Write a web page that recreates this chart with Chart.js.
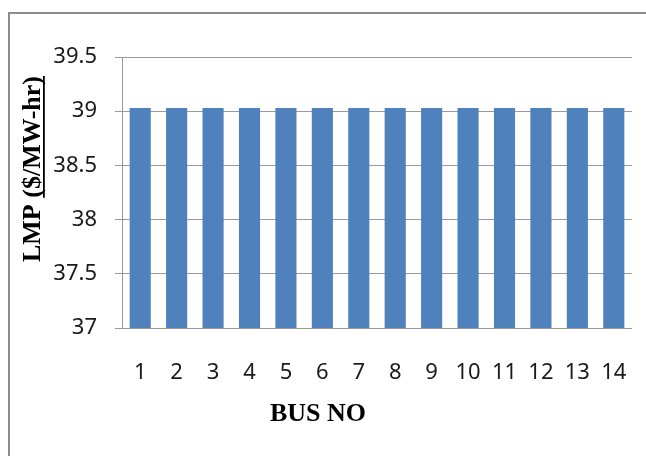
<!DOCTYPE html>
<html>
<head>
<meta charset="utf-8">
<script src="https://cdn.jsdelivr.net/npm/chart.js@4"></script>
<style>
  html, body { margin: 0; padding: 0; background: #ffffff; }
  #wrap { width: 646px; height: 456px; position: relative; }
</style>
</head>
<body>
<div id="wrap"><canvas id="c" width="646" height="456"></canvas></div>
<script>
// Bus numbers and locational marginal prices
const busNumbers = ['1','2','3','4','5','6','7','8','9','10','11','12','13','14'];
const lmpValues = [39.03, 39.03, 39.03, 39.03, 39.03, 39.03, 39.03, 39.03, 39.03, 39.03, 39.03, 39.03, 39.03, 39.03];
const yTickValues = [37, 37.5, 38, 38.5, 39, 39.5];

const xTitle = 'BUS NO';
const yTitleMain = 'LMP ';
const yTitleUnit = '($/MW-hr)';

const tickFont = { family: "'Noto Sans', 'Liberation Sans', sans-serif", size: 22 };
const titleFont = "bold 26px 'Liberation Serif', 'DejaVu Serif', serif";

// Frame and axis titles drawn around the plot
const decorations = {
  id: 'decorations',
  beforeDraw(chart) {
    const ctx = chart.ctx;
    ctx.save();
    ctx.fillStyle = '#ffffff';
    ctx.fillRect(0, 0, chart.width, chart.height);
    ctx.strokeStyle = '#8c8c8c';
    ctx.lineWidth = 2;
    ctx.beginPath();
    ctx.moveTo(chart.width + 2, 13);
    ctx.lineTo(9, 13);
    ctx.lineTo(9, chart.height + 2);
    ctx.stroke();
    ctx.restore();
  },
  afterDraw(chart) {
    const ctx = chart.ctx;
    ctx.save();
    ctx.fillStyle = '#000000';
    ctx.font = titleFont;
    // x-axis title
    ctx.textAlign = 'center';
    ctx.textBaseline = 'middle';
    ctx.fillText(xTitle, 318, 414);
    // y-axis title, rotated, unit part underlined
    const full = yTitleMain + yTitleUnit;
    const wFull = ctx.measureText(full).width;
    const wMain = ctx.measureText(yTitleMain).width;
    const wUnit = ctx.measureText(yTitleUnit).width;
    ctx.translate(32, 169);
    ctx.rotate(-Math.PI / 2);
    ctx.textAlign = 'left';
    ctx.textBaseline = 'alphabetic';
    const x0 = -wFull / 2;
    const base = 8;
    ctx.fillText(full, x0, base);
    ctx.fillRect(x0 + wMain, base + 3, wUnit, 1.8);
    ctx.restore();
  }
};

new Chart(document.getElementById('c'), {
  type: 'bar',
  data: {
    labels: busNumbers,
    datasets: [{
      data: lmpValues,
      backgroundColor: '#4f81bd',
      borderWidth: 0,
      barPercentage: 0.58,
      categoryPercentage: 1.0
    }]
  },
  options: {
    responsive: false,
    animation: false,
    devicePixelRatio: 1,
    layout: { padding: { top: 57, right: 14, left: 0, bottom: 0 } },
    plugins: { legend: { display: false }, tooltip: { enabled: false }, title: { display: false } },
    scales: {
      x: {
        grid: { display: false, drawTicks: false },
        border: { display: false },
        ticks: { color: '#1a1a1a', font: tickFont, padding: 32, maxRotation: 0, autoSkip: false },
        afterFit(scale) {
          scale.height = 128;
          scale.paddingLeft = 0;
          scale.paddingRight = 0;
        }
      },
      y: {
        min: 37,
        max: 39.5,
        afterBuildTicks(scale) { scale.ticks = yTickValues.map(v => ({ value: v })); },
        grid: { color: '#9a9a9a', lineWidth: 1, tickLength: 7 },
        border: { display: true, color: '#9a9a9a', width: 1 },
        ticks: { color: '#1a1a1a', font: tickFont, padding: 18, callback: v => String(v) },
        afterFit(scale) {
          scale.width = 122;
          scale.paddingTop = 0;
          scale.paddingBottom = 0;
        }
      }
    }
  },
  plugins: [decorations]
});
</script>
</body>
</html>
